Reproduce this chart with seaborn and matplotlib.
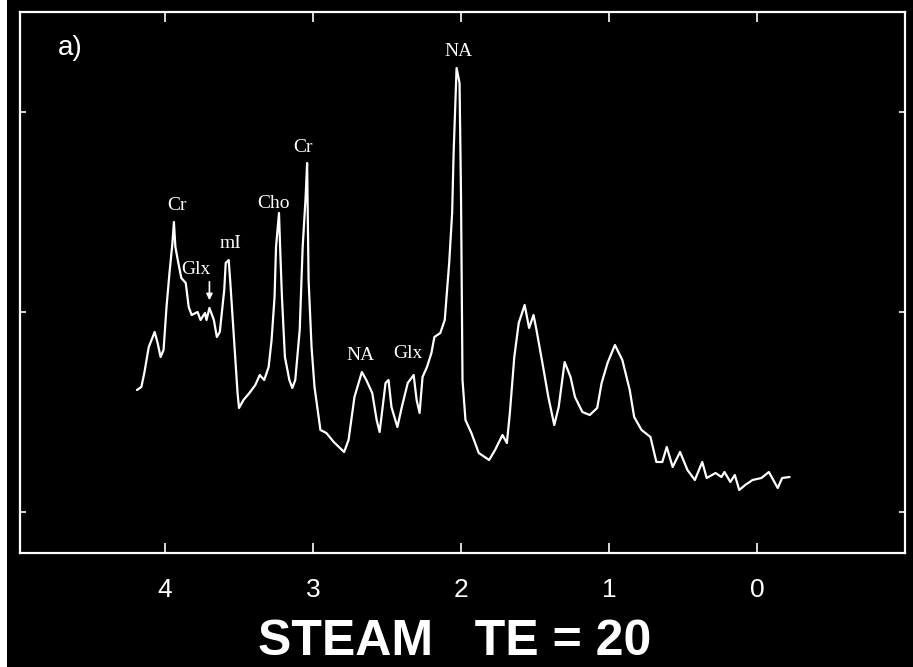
import matplotlib
matplotlib.use("Agg")
import matplotlib.pyplot as plt
import seaborn as sns
import pandas as pd

# ---- data (ppm, arbitrary intensity) ----
ppm = [4.19, 4.16, 4.14, 4.11, 4.07, 4.05, 4.03, 4.01, 3.99, 3.97, 3.95, 3.94,
       3.93, 3.91, 3.89, 3.86, 3.84, 3.82, 3.78, 3.76, 3.73, 3.72, 3.70, 3.67,
       3.65, 3.63, 3.60, 3.59, 3.57, 3.56, 3.53, 3.51, 3.50, 3.47, 3.43, 3.39,
       3.36, 3.33, 3.30, 3.28, 3.26, 3.25, 3.23, 3.22, 3.21, 3.19, 3.16, 3.14,
       3.12, 3.09, 3.07, 3.05, 3.04, 3.03, 3.01, 2.99, 2.95, 2.91, 2.86, 2.79,
       2.76, 2.72, 2.67, 2.64, 2.60, 2.57, 2.55, 2.51, 2.49, 2.47, 2.43, 2.40,
       2.36, 2.32, 2.30, 2.28, 2.26, 2.23, 2.20, 2.18, 2.14, 2.11, 2.08, 2.06,
       2.05, 2.03, 2.01, 2.00, 1.99, 1.97, 1.93, 1.88, 1.81, 1.77, 1.72, 1.69,
       1.67, 1.64, 1.61, 1.57, 1.54, 1.51, 1.49, 1.45, 1.41, 1.37, 1.34, 1.30,
       1.26, 1.23, 1.18, 1.13, 1.08, 1.05, 1.01, 0.96, 0.91, 0.86, 0.83, 0.78,
       0.72, 0.68, 0.64, 0.61, 0.57, 0.52, 0.47, 0.42, 0.37, 0.34, 0.28, 0.24,
       0.22, 0.18, 0.15, 0.12, 0.08, 0.03, -0.03, -0.08, -0.14, -0.17, -0.22]
intensity = [163, 166, 180, 206, 221, 210, 196, 203, 246, 280, 310, 331,
             306, 290, 275, 270, 246, 238, 241, 233, 240, 233, 245, 233,
             216, 221, 263, 290, 293, 273, 206, 160, 145, 153, 160, 168,
             178, 173, 186, 213, 256, 306, 340, 296, 256, 196, 173, 165,
             173, 223, 306, 356, 390, 273, 206, 166, 123, 120, 111, 101,
             113, 156, 181, 173, 160, 133, 121, 170, 173, 146, 126, 146,
             170, 178, 153, 140, 176, 186, 200, 216, 220, 233, 290, 340,
             400, 485, 470, 356, 173, 133, 120, 100, 93, 103, 118, 110,
             140, 196, 230, 248, 225, 238, 223, 190, 156, 128, 146, 191,
             176, 156, 141, 138, 145, 170, 190, 208, 193, 163, 136, 123,
             116, 91, 91, 106, 86, 101, 83, 73, 91, 75, 80, 76,
             81, 71, 78, 63, 68, 73, 75, 81, 65, 75, 76]

peak_labels = ["Cr", "Glx", "mI", "Cho", "Cr", "NA", "Glx", "NA"]
label_ppm = [3.92, 3.79, 3.56, 3.27, 3.07, 2.68, 2.36, 2.02]
label_int = [348, 283, 310, 350, 406, 197, 200, 501]
xticks = [4, 3, 2, 1, 0]
xtick_labels = ["4", "3", "2", "1", "0"]
title_text = "STEAM   TE = 20"
panel_text = "a)"

df = pd.DataFrame({"ppm": ppm, "intensity": intensity})

sns.set_theme(style="white")
plt.rcParams["font.family"] = ["Liberation Sans", "DejaVu Sans"]

fig = plt.figure(figsize=(9.13, 6.67), dpi=100, facecolor="black")
ax = fig.add_axes([20 / 913, 1 - 553 / 667, 885 / 913, 541 / 667])
ax.set_facecolor("black")

sns.lineplot(data=df, x="ppm", y="intensity", ax=ax, color="white",
             linewidth=1.6, sort=False, estimator=None, legend=False)

ax.set_xlim(4.98, -1.0)
ax.set_ylim(0, 541)
ax.set_xlabel("")
ax.set_ylabel("")

for s in ax.spines.values():
    s.set_color("white")
    s.set_linewidth(1.6)

ax.set_xticks(xticks)
ax.set_xticklabels(xtick_labels, fontsize=19, color="white",
                   family=["Liberation Sans", "DejaVu Sans"])
ax.set_yticks([41, 241, 441])
ax.set_yticklabels([])
ax.tick_params(axis="x", which="major", direction="in", length=7, width=1.2,
               color="white", top=True, bottom=True, pad=18)
ax.tick_params(axis="y", which="major", direction="in", length=4, width=1.2,
               color="white", left=True, right=True)

for lab, xp, yp in zip(peak_labels, label_ppm, label_int):
    ax.text(xp, yp, lab, color="white", fontsize=14, ha="center", va="center",
            family=["Liberation Serif", "DejaVu Serif"])

# arrow under the small Glx label
ax.annotate("", xy=(3.70, 250), xytext=(3.70, 274),
            arrowprops=dict(arrowstyle="-|>", color="white", lw=1.2,
                            mutation_scale=9))

ax.text(4.64, 505, panel_text, color="white", fontsize=20, ha="center",
        va="center", family=["Liberation Sans", "DejaVu Sans"])

fig.text(455 / 913, 2 / 667, title_text, color="white", fontsize=36,
         fontweight="bold", ha="center", va="bottom",
         family=["Liberation Sans", "DejaVu Sans"])

# white scan edge on the left
fig.patches.append(plt.Rectangle((0, 0), 7 / 913, 1, transform=fig.transFigure,
                                 facecolor="white", edgecolor="none"))

fig.savefig("out.png", dpi=100, facecolor="black")
